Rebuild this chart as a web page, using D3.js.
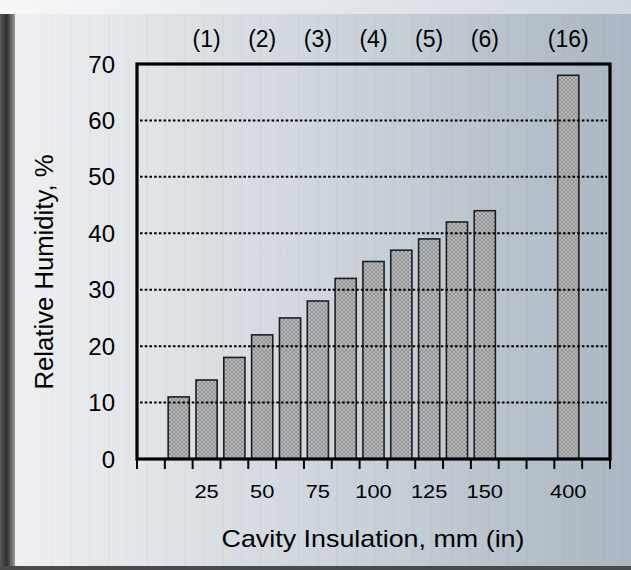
<!DOCTYPE html>
<html>
<head>
<meta charset="utf-8">
<script src="https://cdn.jsdelivr.net/npm/d3@7"></script>
<style>
  body { margin: 0; background: #fff; }
  svg { display: block; font-family: "Liberation Sans", Arial, sans-serif; }
</style>
</head>
<body>
<div id="chart"></div>
<script>
// Category slots along the x axis (band scale keys)
const slots = ["s0", "s1", "s2", "s3", "s4", "s5", "s6", "s7", "s8",
               "s9", "s10", "s11", "s12", "s13", "s14", "s15", "s16"];

// Bars: slot and relative humidity (%)
const barSlots = ["s1", "s2", "s3", "s4", "s5", "s6", "s7", "s8", "s9", "s10", "s11", "s12", "s15"];
const humidity = [11, 14, 18, 22, 25, 28, 32, 35, 37, 39, 42, 44, 68];

// Tick labels: mm below the axis, inches above the frame
const labelSlots = ["s2", "s4", "s6", "s8", "s10", "s12", "s15"];
const mmLabels = ["25", "50", "75", "100", "125", "150", "400"];
const inLabels = ["(1)", "(2)", "(3)", "(4)", "(5)", "(6)", "(16)"];

const yTicks = [0, 10, 20, 30, 40, 50, 60, 70];
const gridValues = [10, 20, 30, 40, 50, 60];

const W = 631, H = 570;
const svg = d3.select("#chart").append("svg")
  .attr("width", W)
  .attr("height", H);

const defs = svg.append("defs");

// panel background gradient
const bg = defs.append("linearGradient").attr("id", "bg")
  .attr("x1", "0%").attr("x2", "100%").attr("y1", "0%").attr("y2", "0%");
bg.append("stop").attr("offset", "0%").attr("stop-color", "#f0f1f3");
bg.append("stop").attr("offset", "45%").attr("stop-color", "#d3d9df");
bg.append("stop").attr("offset", "100%").attr("stop-color", "#aab6c2");

// left shadow
const sh = defs.append("linearGradient").attr("id", "shadow")
  .attr("x1", "0%").attr("x2", "100%").attr("y1", "0%").attr("y2", "0%");
sh.append("stop").attr("offset", "0%").attr("stop-color", "#5a5a5a");
sh.append("stop").attr("offset", "45%").attr("stop-color", "#2e2e2e");
sh.append("stop").attr("offset", "100%").attr("stop-color", "#9a9a9a");

// hatch fill for bars
const pat = defs.append("pattern").attr("id", "hatch")
  .attr("width", 4).attr("height", 4)
  .attr("patternUnits", "userSpaceOnUse");
pat.append("rect").attr("width", 4).attr("height", 4).attr("fill", "#b6b7b9");
pat.append("path").attr("d", "M0,0 L4,4 M4,0 L0,4")
  .attr("stroke", "#8a8b8d").attr("stroke-width", 0.8);

svg.append("rect").attr("width", W).attr("height", H).attr("fill", "url(#bg)");
svg.append("rect").attr("width", W).attr("height", 14)
  .attr("fill", "#ffffff").attr("opacity", 0.45);

// faint vertical texture lines
const texture = d3.range(52, 630, 19);
svg.append("g").selectAll("line")
  .data(texture)
  .enter()
  .append("line")
  .attr("x1", d => d).attr("x2", d => d)
  .attr("y1", 14).attr("y2", 566)
  .attr("stroke", "#000").attr("stroke-opacity", 0.035);

svg.append("rect").attr("x", 0).attr("y", 14).attr("width", 15).attr("height", H - 14)
  .attr("fill", "url(#shadow)");
svg.append("rect").attr("x", 0).attr("y", 566).attr("width", W).attr("height", 4)
  .attr("fill", "#4a4a4a");

// plot area
const plotLeft = 137, plotRight = 610, plotTop = 64, plotBottom = 459;

const x = d3.scaleBand()
  .domain(slots)
  .range([plotLeft, plotRight])
  .paddingInner(0.24)
  .paddingOuter(0.12);

const y = d3.scaleLinear()
  .domain([0, 70])
  .range([plotBottom, plotTop]);

// bars
svg.append("g").selectAll("rect")
  .data(barSlots)
  .enter()
  .append("rect")
  .attr("x", d => x(d))
  .attr("width", x.bandwidth())
  .attr("y", (d, i) => y(humidity[i]))
  .attr("height", (d, i) => y(0) - y(humidity[i]))
  .attr("fill", "url(#hatch)")
  .attr("stroke", "#1e1e1e")
  .attr("stroke-width", 1.6);

// dotted gridlines (drawn over the bars)
svg.append("g").selectAll("line")
  .data(gridValues)
  .enter()
  .append("line")
  .attr("x1", plotLeft + 3).attr("x2", plotRight - 3)
  .attr("y1", d => y(d)).attr("y2", d => y(d))
  .attr("stroke", "#000")
  .attr("stroke-width", 2)
  .attr("stroke-dasharray", "2.6,2.1");

// frame
svg.append("rect")
  .attr("x", plotLeft).attr("y", plotTop)
  .attr("width", plotRight - plotLeft).attr("height", plotBottom - plotTop)
  .attr("fill", "none")
  .attr("stroke", "#000")
  .attr("stroke-width", 3.2);

// x ticks at band boundaries
const boundaries = slots.map(s => x(s) - x.step() * x.paddingInner() / 2).concat([plotRight]);
svg.append("g").selectAll("line")
  .data(boundaries)
  .enter()
  .append("line")
  .attr("x1", d => d).attr("x2", d => d)
  .attr("y1", plotBottom).attr("y2", plotBottom + 10)
  .attr("stroke", "#000")
  .attr("stroke-width", 2);

// y axis labels
svg.append("g").selectAll("text")
  .data(yTicks)
  .enter()
  .append("text")
  .attr("x", 115)
  .attr("y", d => y(d))
  .attr("dy", "0.36em")
  .attr("text-anchor", "end")
  .attr("font-size", 24)
  .attr("fill", "#000")
  .text(d => d);

// x labels (mm), slightly wide glyphs in the original
svg.append("g").selectAll("text")
  .data(labelSlots)
  .enter()
  .append("text")
  .attr("transform", d => `translate(${x(d) + x.bandwidth() / 2}, 498) scale(1.15, 1)`)
  .attr("text-anchor", "middle")
  .attr("font-size", 19)
  .attr("fill", "#000")
  .text((d, i) => mmLabels[i]);

// top labels (in)
svg.append("g").selectAll("text")
  .data(labelSlots)
  .enter()
  .append("text")
  .attr("x", d => x(d) + x.bandwidth() / 2)
  .attr("y", 47)
  .attr("text-anchor", "middle")
  .attr("font-size", 23)
  .attr("fill", "#000")
  .text((d, i) => inLabels[i]);

// axis titles
svg.append("text")
  .attr("x", 373)
  .attr("y", 547)
  .attr("text-anchor", "middle")
  .attr("font-size", 24)
  .attr("textLength", 303)
  .attr("lengthAdjust", "spacingAndGlyphs")
  .attr("fill", "#000")
  .text("Cavity Insulation, mm (in)");

svg.append("text")
  .attr("transform", "translate(53, 272) rotate(-90)")
  .attr("text-anchor", "middle")
  .attr("font-size", 26)
  .attr("textLength", 235)
  .attr("lengthAdjust", "spacingAndGlyphs")
  .attr("fill", "#000")
  .text("Relative Humidity, %");
</script>
</body>
</html>
